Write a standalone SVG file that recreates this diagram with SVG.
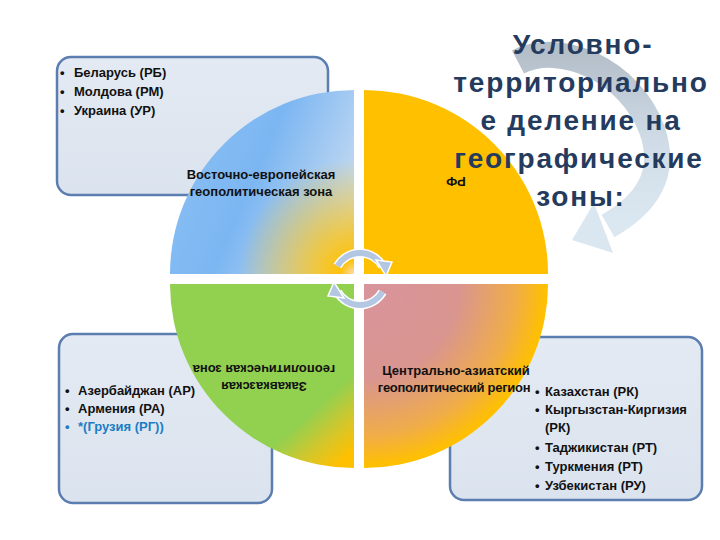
<svg xmlns="http://www.w3.org/2000/svg" width="720" height="540" viewBox="0 0 720 540">
<defs>
<style>
.box{fill:url(#boxg);stroke:#5b7db0;stroke-width:2.5}
.bt{font-family:"Liberation Sans",Arial,sans-serif;font-weight:bold;font-size:13px;fill:#111}
.qt{font-family:"Liberation Sans",Arial,sans-serif;font-weight:bold;font-size:13px;fill:#111;text-anchor:middle}
.title{font-family:"Liberation Sans",Arial,sans-serif;font-weight:bold;font-size:28px;fill:#243b5e;text-anchor:middle;letter-spacing:1.8px}
.ca{fill:none;stroke:#b3c6e2;stroke-width:6}
.caw{fill:none;stroke:#fff;stroke-width:9}
</style>
<linearGradient id="boxg" x1="0" y1="0" x2="0" y2="1">
<stop offset="0" stop-color="#e3eaf3"/>
<stop offset="1" stop-color="#dbe3ee"/>
</linearGradient>
<linearGradient id="tlg" x1="170" y1="120" x2="354" y2="200" gradientUnits="userSpaceOnUse">
<stop offset="0" stop-color="#8bc0f4"/>
<stop offset="0.5" stop-color="#7cb6f2"/>
<stop offset="1" stop-color="#c6dbf1"/>
</linearGradient>
<radialGradient id="tly" cx="354" cy="274" r="115" gradientUnits="userSpaceOnUse">
<stop offset="0" stop-color="#fbdcb0" stop-opacity="1"/>
<stop offset="0.12" stop-color="#ffc20a" stop-opacity="1"/>
<stop offset="0.45" stop-color="#ffc000" stop-opacity="0.6"/>
<stop offset="1" stop-color="#ffc000" stop-opacity="0"/>
</radialGradient>
<linearGradient id="blg" x1="270" y1="355" x2="355" y2="450" gradientUnits="userSpaceOnUse">
<stop offset="0" stop-color="#92d050"/>
<stop offset="0.55" stop-color="#92d050"/>
<stop offset="0.8" stop-color="#d6c62a"/>
<stop offset="1" stop-color="#ffc000"/>
</linearGradient>
<radialGradient id="brg" cx="364" cy="284" r="190" gradientUnits="userSpaceOnUse">
<stop offset="0" stop-color="#d8949c"/>
<stop offset="0.5" stop-color="#d9958f"/>
<stop offset="0.8" stop-color="#f0ad48"/>
<stop offset="0.96" stop-color="#ffc000"/>
</radialGradient>
<linearGradient id="arcg" x1="0" y1="0" x2="0" y2="1">
<stop offset="0" stop-color="#b4bfca"/>
<stop offset="0.5" stop-color="#cfdbe6"/>
<stop offset="1" stop-color="#dce8f1"/>
</linearGradient>
</defs>
<rect width="720" height="540" fill="#fff"/>

<g id="big-arrow">
<path d="M518,62 C560,40 630,70 652,130 C668,175 645,205 608,226" fill="none" stroke="url(#arcg)" stroke-width="26"/>
<polygon points="594,203 613,253 572,240" fill="#dbe7f0"/>
</g>

<g id="box-tl">
<rect class="box" x="57" y="57" width="271" height="138" rx="14"/>
<text class="bt" x="60" y="77">•</text><text class="bt" x="74" y="77">Беларусь (РБ)</text>
<text class="bt" x="60" y="96">•</text><text class="bt" x="74" y="96">Молдова (РМ)</text>
<text class="bt" x="60" y="115">•</text><text class="bt" x="74" y="115">Украина (УР)</text>
</g>
<g id="box-bl">
<rect class="box" x="59" y="334" width="213" height="169" rx="14"/>
</g>
<g id="box-br">
<rect class="box" x="450" y="337" width="252" height="163" rx="14"/>
</g>

<g id="zone-ee">
<path d="M354,274 L170,274 A184,184 0 0 1 354,90 Z" fill="url(#tlg)"/>
<path d="M354,274 L170,274 A184,184 0 0 1 354,90 Z" fill="url(#tly)"/>
<text class="qt" x="261" y="179">Восточно-европейская</text>
<text class="qt" x="261" y="196">геополитическая зона</text>
</g>
<g id="zone-rf">
<path d="M364,274 L364,90 A184,184 0 0 1 548,274 Z" fill="#ffc000"/>
<text class="qt" x="456" y="186" transform="rotate(180 456 181.5)">РФ</text>
</g>
<g id="zone-zk">
<path d="M354,284 L354,468 A184,184 0 0 1 170,284 Z" fill="url(#blg)"/>
<g transform="rotate(180 264 377)">
<text class="qt" x="264" y="372">Закавказская</text>
<text class="qt" x="264" y="389">геополитическая зона</text>
</g>
</g>
<g id="zone-ca">
<path d="M364,284 L548,284 A184,184 0 0 1 364,468 Z" fill="url(#brg)"/>
<text class="qt" x="456" y="375">Центрально-азиатский</text>
<text class="qt" x="454" y="392" style="letter-spacing:-0.3px">геополитический регион</text>
</g>

<g id="title">
<text class="title" x="583" y="54">Условно-</text>
<text class="title" x="581" y="92">территориально</text>
<text class="title" x="581" y="130">е деление на</text>
<text class="title" x="579" y="168">географические</text>
<text class="title" x="581" y="206">зоны:</text>
</g>

<g id="box-bl-text">
<text class="bt" x="65" y="395">•</text><text class="bt" x="78" y="395">Азербайджан (АР)</text>
<text class="bt" x="65" y="413">•</text><text class="bt" x="78" y="413">Армения (РА)</text>
<text class="bt" x="65" y="431" style="fill:#1a7dc4">•</text><text class="bt" x="78" y="431" style="fill:#1a7dc4">*(Грузия (РГ))</text>
</g>
<g id="box-br-text">
<text class="bt" x="535" y="396">•</text><text class="bt" x="545" y="396">Казахстан (РК)</text>
<text class="bt" x="535" y="414">•</text><text class="bt" x="545" y="414">Кыргызстан-Киргизия</text>
<text class="bt" x="545" y="432">(РК)</text>
<text class="bt" x="535" y="452">•</text><text class="bt" x="545" y="452">Таджикистан (РТ)</text>
<text class="bt" x="535" y="471">•</text><text class="bt" x="545" y="471">Туркмения (РТ)</text>
<text class="bt" x="535" y="490">•</text><text class="bt" x="545" y="490">Узбекистан (РУ)</text>
</g>

<g id="connectors">
<path class="caw" d="M337.5,266 A26,26 0 0 1 382.5,266"/>
<path class="ca" d="M337.5,266 A26,26 0 0 1 382.5,266"/>
<polygon points="376,260 392,262 386,276" fill="#b3c6e2" stroke="#fff" stroke-width="1.5"/>
<path class="caw" d="M382.5,292 A26,26 0 0 1 337.5,292"/>
<path class="ca" d="M382.5,292 A26,26 0 0 1 337.5,292"/>
<polygon points="344,298 328,296 334,282" fill="#b3c6e2" stroke="#fff" stroke-width="1.5"/>
</g>
</svg>
